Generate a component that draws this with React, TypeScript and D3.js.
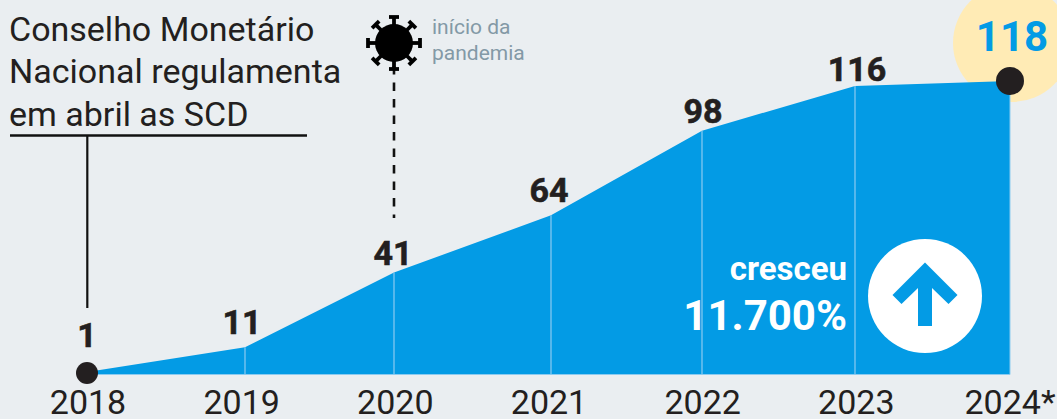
import React from "react";
import * as d3 from "d3";

const years = ["2018", "2019", "2020", "2021", "2022", "2023", "2024"];
const yearLabels = ["2018", "2019", "2020", "2021", "2022", "2023", "2024*"];
const values = [1, 11, 41, 64, 98, 116, 118];
const titleLines = ["Conselho Monetário", "Nacional regulamenta", "em abril as SCD"];
const noteLines = ["início da", "pandemia"];

const W = 1057, H = 419;
const BG = "#EAEEF1", BLUE = "#039BE5", DARK = "#231F20";
const FONT = "Roboto, sans-serif";
const markX = [87, 245, 394, 551, 702, 855, 1010];
const labelDx = [0, -3, -1, -2, 1, 2];
const labelBaseY = [347, 334, 265, 202, 123, 81];

const x = d3.scaleOrdinal<string, number>().domain(years).range(markX);
const labelX = d3.scalePoint<string>().domain(years).range([88, 1010]);
const y = d3.scaleLinear().domain([0, 118]).range([374.5, 81]);
const area = d3.area<number>()
  .x((_, i) => x(years[i]))
  .y0(y(0))
  .y1(d => y(d));

const spikes = d3.range(8).map(i => i * 45);

export default function App() {
  return (
    <svg width={W} height={H} viewBox={`0 0 ${W} ${H}`}
      style={{ position: "absolute", left: 0, top: 0, display: "block", background: BG, fontFamily: FONT }}>
      <circle cx={1012} cy={43} r={59} fill="#FFEBB5" />
      <path d={area(values) ?? ""} fill={BLUE} />
      {values.slice(1, -1).map((v, i) => (
        <line key={i} x1={x(years[i + 1])} x2={x(years[i + 1])} y1={y(v)} y2={y(0)} stroke="#8CCBF0" strokeWidth={1.2} />
      ))}
      <line x1={87} x2={1010} y1={y(0)} y2={y(0)} stroke="#8CCBF0" strokeWidth={1} />
      <line x1={1010} x2={1010} y1={y(118)} y2={y(0)} stroke="#8CCBF0" strokeWidth={1} />

      {titleLines.map((t, i) => (
        <text key={t} x={9} y={41 + i * 42.3} fontSize={34} fill={DARK}>{t}</text>
      ))}
      <line x1={10} x2={307} y1={135.5} y2={135.5} stroke="#111" strokeWidth={2.4} />
      <line x1={87.3} x2={87.3} y1={135} y2={308} stroke="#111" strokeWidth={2.2} />

      <line x1={394} x2={394} y1={66} y2={218} stroke="#111" strokeWidth={2.6} strokeDasharray="8.5 8" />
      <g transform="translate(394,43)">
        <circle r={19} fill="#000" />
        {spikes.map(a => (
          <g key={a} transform={`rotate(${a})`}>
            <line x1={0} x2={0} y1={-18} y2={-26} stroke="#000" strokeWidth={3.8} />
            <line x1={-5} x2={5} y1={-26} y2={-26} stroke="#000" strokeWidth={3.8} />
          </g>
        ))}
      </g>
      {noteLines.map((t, i) => (
        <text key={t} x={432} y={34 + i * 26} fontSize={21} fill="#8399A6">{t}</text>
      ))}

      {values.slice(0, -1).map((v, i) => (
        <text key={i} x={x(years[i]) + labelDx[i]} y={labelBaseY[i]}
          fontSize={34} fontWeight={700} textAnchor="middle" fill={DARK} stroke={DARK} strokeWidth={0.6}>{v}</text>
      ))}
      <text x={1012} y={51} fontSize={42} fontWeight={700} textAnchor="middle" fill={BLUE}>{values[6]}</text>

      <circle cx={87} cy={373} r={11} fill={DARK} />
      <circle cx={1010} cy={81} r={14} fill={DARK} />

      {yearLabels.map((t, i) => (
        <text key={t} x={labelX(years[i])} y={414} fontSize={34} textAnchor="middle" fill={DARK}>{t}</text>
      ))}

      <text x={847} y={280} fontSize={33} fontWeight={700} textAnchor="end" fill="#fff">cresceu</text>
      <text x={847} y={330} fontSize={42} fontWeight={700} textAnchor="end" fill="#fff">11.700%</text>
      <circle cx={925} cy={296} r={57} fill="#fff" />
      <path d="M925 262.500L957.500 295L948.500 304L932 288V326H918V288L901.500 304L892.500 295Z" fill={BLUE} />
    </svg>
  );
}
